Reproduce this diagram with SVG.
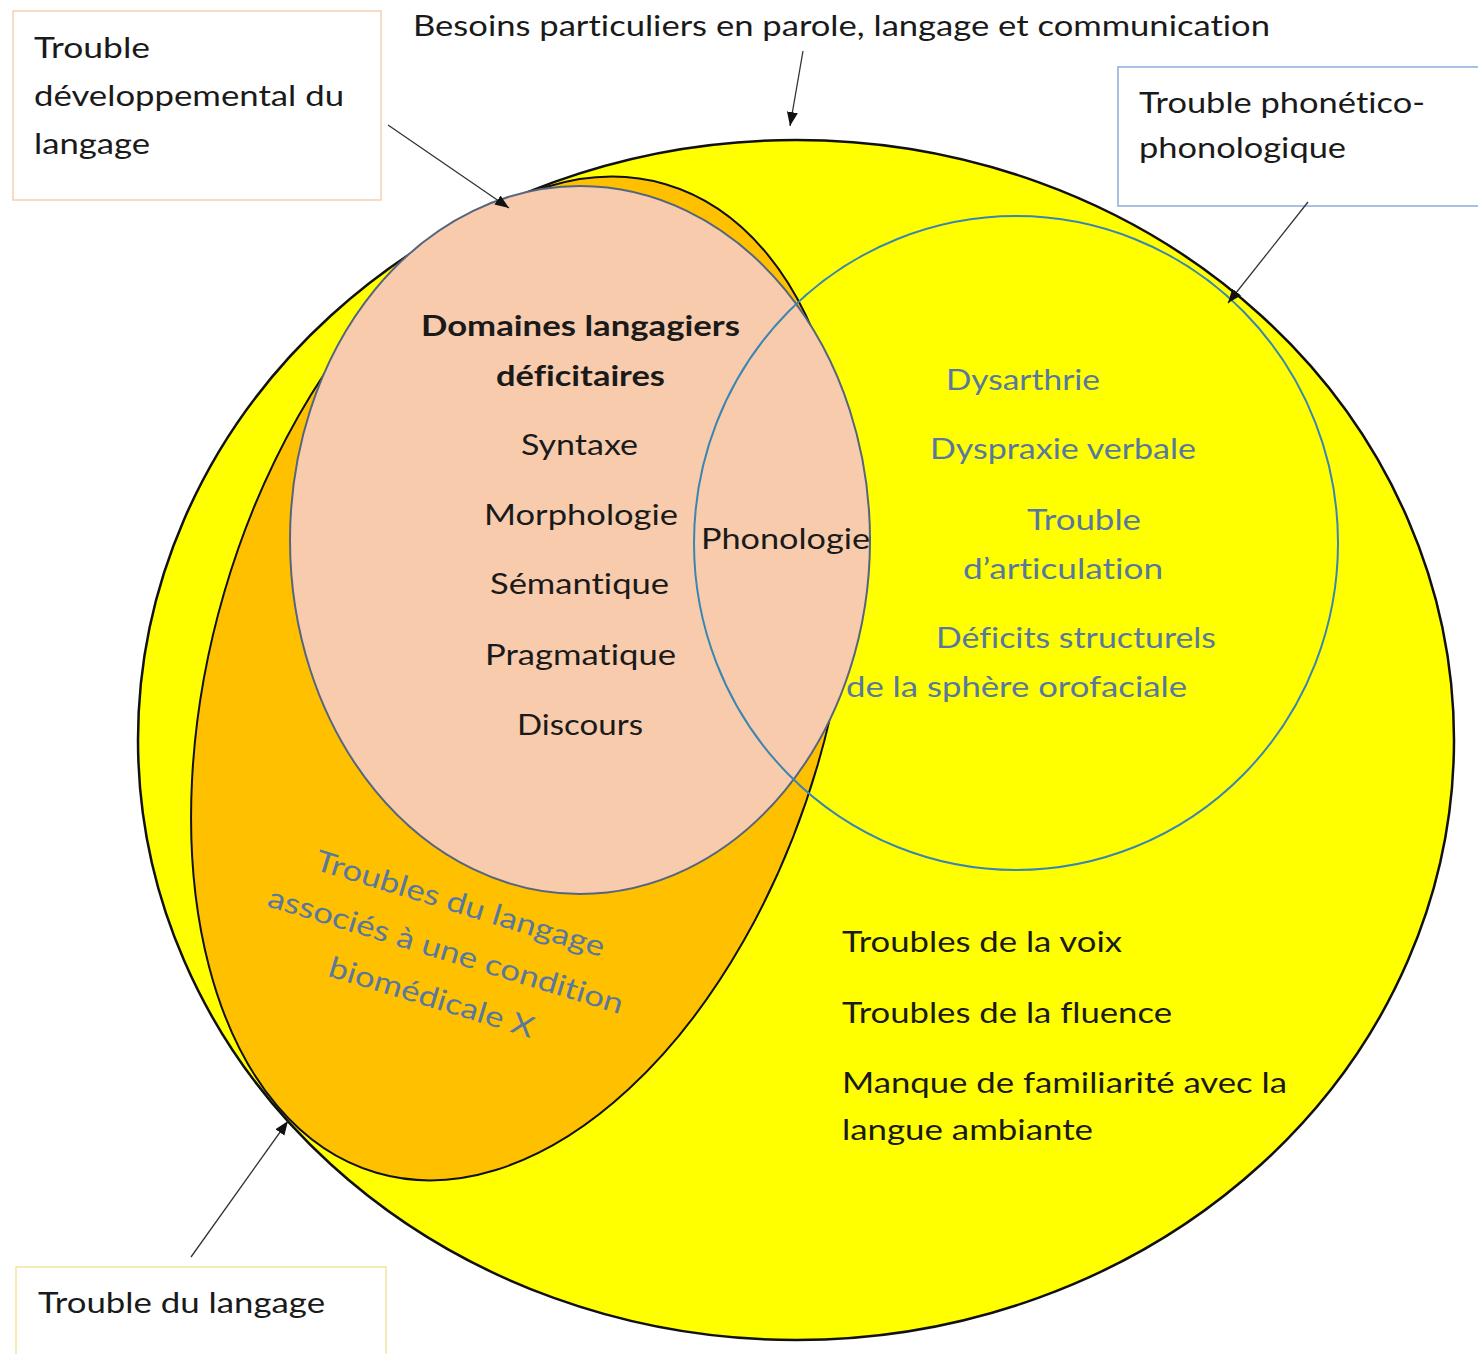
<svg xmlns="http://www.w3.org/2000/svg" width="1478" height="1354" viewBox="0 0 1478 1354">
<defs>
<marker id="ah" markerUnits="userSpaceOnUse" markerWidth="16" markerHeight="12" refX="14" refY="6" orient="auto">
<path d="M0,0.5 L14,6 L0,11.5 z" fill="#111"/>
</marker>
<style>
text{font-family:Lato,"Open Sans","Liberation Sans",sans-serif;font-size:29px;fill:#1a1a1a;font-variant-ligatures:none;font-feature-settings:"liga" 0,"dlig" 0}
.b{font-weight:bold}
.s{fill:#5878a0}
.box{fill:#fff;stroke-width:1.5}
.con{stroke:#333;stroke-width:1.3;fill:none;marker-end:url(#ah)}
</style>
</defs>
<rect width="1478" height="1354" fill="#fff"/>

<g id="besoins">
<ellipse cx="796" cy="740" rx="658" ry="600" fill="#ffff00" stroke="#111" stroke-width="2.5"/>
</g>

<g id="trouble-langage">
<ellipse cx="521" cy="678.5" rx="309" ry="515" transform="rotate(16.3 521 678.5)" fill="#ffc000" stroke="#111" stroke-width="2"/>
<g transform="translate(443 960) rotate(17)">
<text class="s" x="0" y="-49" text-anchor="middle" textLength="301" lengthAdjust="spacingAndGlyphs">Troubles du langage</text>
<text class="s" x="0" y="0" text-anchor="middle" textLength="370" lengthAdjust="spacingAndGlyphs">associés à une condition</text>
<text class="s" x="0" y="49" text-anchor="middle" textLength="213" lengthAdjust="spacingAndGlyphs">biomédicale X</text>
</g>
</g>

<g id="tdl">
<ellipse cx="580" cy="540" rx="290" ry="354" fill="#f8cbad" stroke="#56657e" stroke-width="2"/>
<text class="b" x="421" y="336" textLength="319" lengthAdjust="spacingAndGlyphs">Domaines langagiers</text>
<text class="b" x="496" y="386" textLength="169" lengthAdjust="spacingAndGlyphs">déficitaires</text>
<text x="521" y="455" textLength="117" lengthAdjust="spacingAndGlyphs">Syntaxe</text>
<text x="484" y="525" textLength="194" lengthAdjust="spacingAndGlyphs">Morphologie</text>
<text x="490" y="594" textLength="179" lengthAdjust="spacingAndGlyphs">Sémantique</text>
<text x="485" y="665" textLength="191" lengthAdjust="spacingAndGlyphs">Pragmatique</text>
<text x="517" y="735" textLength="126" lengthAdjust="spacingAndGlyphs">Discours</text>
<text x="701" y="549" textLength="169" lengthAdjust="spacingAndGlyphs">Phonologie</text>
</g>

<g id="phonetico">
<ellipse cx="1016" cy="543" rx="322" ry="327" fill="none" stroke="#3a86b0" stroke-width="2"/>
<text class="s" x="946" y="390" textLength="154" lengthAdjust="spacingAndGlyphs">Dysarthrie</text>
<text class="s" x="930" y="459" textLength="266" lengthAdjust="spacingAndGlyphs">Dyspraxie verbale</text>
<text class="s" x="1027" y="530" textLength="114" lengthAdjust="spacingAndGlyphs">Trouble</text>
<text class="s" x="963" y="579" textLength="200" lengthAdjust="spacingAndGlyphs">d’articulation</text>
<text class="s" x="936" y="648" textLength="280" lengthAdjust="spacingAndGlyphs">Déficits structurels</text>
<text class="s" x="846" y="697" textLength="341" lengthAdjust="spacingAndGlyphs">de la sphère orofaciale</text>
</g>

<g id="autres">
<text x="842" y="952" textLength="280" lengthAdjust="spacingAndGlyphs">Troubles de la voix</text>
<text x="842" y="1023" textLength="330" lengthAdjust="spacingAndGlyphs">Troubles de la fluence</text>
<text x="842" y="1093" textLength="445" lengthAdjust="spacingAndGlyphs">Manque de familiarité avec la</text>
<text x="842" y="1140" textLength="251" lengthAdjust="spacingAndGlyphs">langue ambiante</text>
</g>

<g id="label-besoins">
<text x="413" y="36" textLength="857" lengthAdjust="spacingAndGlyphs">Besoins particuliers en parole, langage et communication</text>
</g>

<g id="label-tdl">
<rect class="box" x="13" y="11" width="368" height="189" stroke="#f6cfae"/>
<text x="34" y="58" textLength="116" lengthAdjust="spacingAndGlyphs">Trouble</text>
<text x="34" y="106" textLength="310" lengthAdjust="spacingAndGlyphs">développemental du</text>
<text x="34" y="154" textLength="116" lengthAdjust="spacingAndGlyphs">langage</text>
</g>

<g id="label-phon">
<rect class="box" x="1118" y="67" width="372" height="139" stroke="#8faadc"/>
<text x="1139" y="113" textLength="286" lengthAdjust="spacingAndGlyphs">Trouble phonético-</text>
<text x="1139" y="158" textLength="207" lengthAdjust="spacingAndGlyphs">phonologique</text>
</g>

<g id="label-tl">
<rect class="box" x="16" y="1267" width="370" height="100" stroke="#f3e3a0"/>
<text x="38" y="1313" textLength="287" lengthAdjust="spacingAndGlyphs">Trouble du langage</text>
</g>

<g id="connectors">
<line class="con" x1="803" y1="51" x2="790" y2="126"/>
<line class="con" x1="388" y1="125" x2="509" y2="208"/>
<line class="con" x1="1308" y1="202" x2="1228" y2="303"/>
<line class="con" x1="191" y1="1257" x2="288" y2="1121"/>
</g>
</svg>
